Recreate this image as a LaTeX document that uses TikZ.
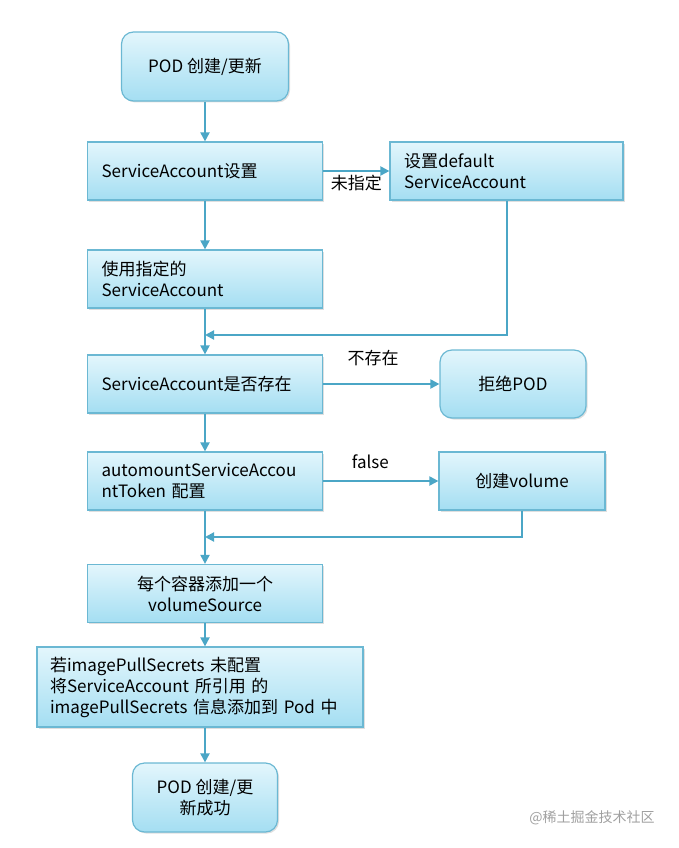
\documentclass[tikz,border=0pt]{standalone}
\usepackage{fontspec}
\setmainfont{Noto Sans CJK SC}
\usetikzlibrary{arrows.meta,shadows}
\definecolor{boxline}{HTML}{6BB8D3}
\definecolor{boxtop}{HTML}{E3F6FC}
\definecolor{boxbot}{HTML}{A4DEF2}
\definecolor{arrowline}{HTML}{4BA6C6}
\definecolor{markgray}{HTML}{A0A0A0}

\begin{document}
\begin{tikzpicture}[x=1pt,y=-1pt,
    box/.style={draw=boxline, line width=1.2pt, top color=boxtop, bottom color=boxbot,
      drop shadow={shadow xshift=1.5pt, shadow yshift=-1.5pt, opacity=0.25},
      minimum height=58pt, inner xsep=14pt, font=\fontsize{17}{21}\selectfont},
    leftbox/.style={box, text width=207pt, align=left},
    roundbox/.style={box, rounded corners=12pt, minimum height=69pt, align=center},
    arr/.style={draw=arrowline, line width=2pt, -{Triangle[length=9pt,width=9pt]}},
    lbl/.style={font=\fontsize{17}{21}\selectfont}]
  \useasboundingbox (0,0) rectangle (678,848);

  % Main column
  \node[roundbox, minimum width=167pt] (pod) at (205,66.5) {POD 创建/更新};
  \node[leftbox] (saset) at (205,171) {ServiceAccount设置};
  \node[leftbox] (use) at (205,279) {使用指定的\\ServiceAccount};
  \node[leftbox] (exist) at (205,384) {ServiceAccount是否存在};
  \node[leftbox] (auto) at (205,481) {automountServiceAccou\\ntToken 配置};
  \node[box, text width=207pt, align=center] (each) at (205,593.5) {每个容器添加一个\\volumeSource};
  \node[box, text width=300pt, inner xsep=13pt, minimum height=80pt, align=left] (pull) at (200,687)
    {若imagePullSecrets 未配置\\将ServiceAccount 所引用 的\\imagePullSecrets 信息添加到 Pod 中};
  \node[roundbox, minimum width=145pt] (done) at (205,797.5) {POD 创建/更\\新成功};

  % Side boxes
  \node[box, text width=205pt, align=left] (def) at (506.5,171) {设置default\\ServiceAccount};
  \node[roundbox, minimum width=146pt, minimum height=68pt] (reject) at (513,384) {拒绝POD};
  \node[box, minimum width=166pt, align=center] (vol) at (522,481) {创建volume};

  % Merge points
  \coordinate (m1) at (205,335);
  \coordinate (m2) at (205,537);

  % Draw the arrows
  \draw[arr] (pod) -- (saset);
  \draw[arr] (saset) -- node[lbl, below] {未指定} (def);
  \draw[arr] (saset) -- (use);
  \draw[arr] (def.south) |- (m1);
  \draw[arr] (use) -- (exist);
  \draw[arr] (exist) -- node[lbl, pos=0.43, above=14pt] {不存在} (reject);
  \draw[arr] (exist) -- (auto);
  \draw[arr] (auto) -- node[lbl, pos=0.41, above=8pt] {false} (vol);
  \draw[arr] (vol.south) |- (m2);
  \draw[arr] (auto) -- (each);
  \draw[arr] (each) -- (each |- pull.north);
  \draw[arr] (pull.south -| done) -- (done);

  % Watermark
  \node[text=markgray, font=\fontsize{14}{16}\selectfont] (mark) at (592,818) {@稀土掘金技术社区};
\end{tikzpicture}
\end{document}
